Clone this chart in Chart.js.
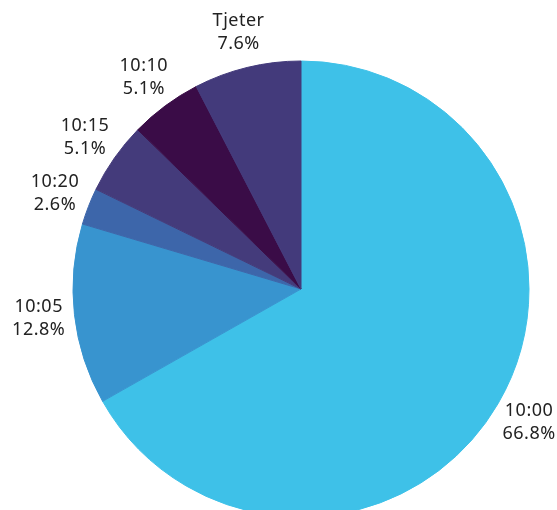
<!DOCTYPE html>
<html>
<head>
<meta charset="utf-8">
<script src="https://cdn.jsdelivr.net/npm/chart.js@4"></script>
<style>
  body { margin: 0; background: #fff; }
  #wrap { width: 557px; height: 510px; }
</style>
</head>
<body>
<div id="wrap"><canvas id="pieChart" width="557" height="510"></canvas></div>
<script>
const labels = ['10:00', '10:05', '10:20', '10:15', '10:10', 'Tjeter'];
const values = [66.8, 12.8, 2.6, 5.1, 5.1, 7.6];
const colors = ['#3EC1E8', '#3894CF', '#3D66AA', '#443B7B', '#3A0C47', '#433A7B'];

// labels outside each slice: name + percent
const outsideLabels = {
  id: 'outsideLabels',
  afterDatasetsDraw(chart) {
    const ctx = chart.ctx;
    const meta = chart.getDatasetMeta(0);
    ctx.save();
    ctx.fillStyle = '#222';
    ctx.font = '18px "Noto Sans", sans-serif';
    ctx.letterSpacing = '0.5px';
    ctx.textAlign = 'center';
    ctx.textBaseline = 'middle';
    meta.data.forEach((arc, i) => {
      const p = arc.getProps(['x', 'y', 'startAngle', 'endAngle', 'outerRadius'], true);
      const mid = (p.startAngle + p.endAngle) / 2;
      const r = p.outerRadius + 36;
      const x = p.x + Math.cos(mid) * r;
      const y = p.y + Math.sin(mid) * r;
      ctx.fillText(labels[i], x, y - 11.5);
      ctx.fillText(values[i].toFixed(1) + '%', x, y + 11.5);
    });
    ctx.restore();
  }
};

const ctx = document.getElementById('pieChart');
const myChart = new Chart(ctx, {
  type: 'pie',
  data: {
    labels: labels,
    datasets: [{
      data: values,
      backgroundColor: colors,
      borderColor: colors,   // same colour as fill, hides the seams
      borderWidth: 1,
      radius: 228
    }]
  },
  options: {
    responsive: false,
    animation: false,
    layout: { padding: { left: 73, right: 28, top: 68, bottom: 0 } },
    plugins: {
      legend: { display: false },
      tooltip: { enabled: false }
    }
  },
  plugins: [outsideLabels]
});
</script>
</body>
</html>
